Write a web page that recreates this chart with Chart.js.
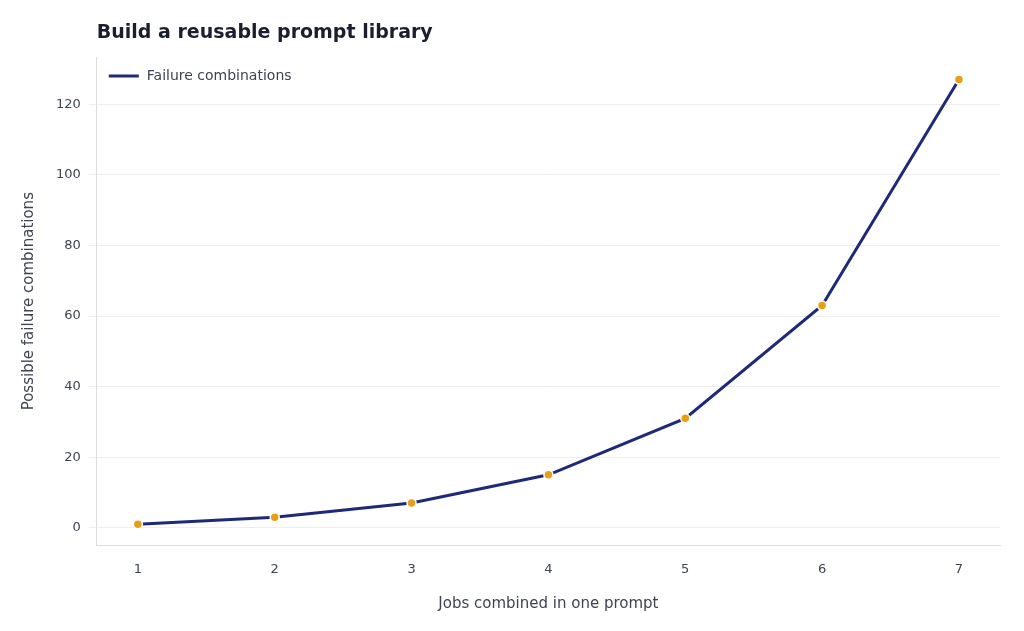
<!DOCTYPE html>
<html><head><meta charset="utf-8">
<script src="https://cdn.jsdelivr.net/npm/chart.js@4"></script>
<style>html,body{margin:0;padding:0;background:#fff}#w{width:1024px;height:631px}</style>
</head><body><div id="w"><canvas id="c"></canvas></div>
<script>
const jobs = [1,2,3,4,5,6,7];
const failures = [1,3,7,15,31,63,127];
const yTicks = [0,20,40,60,80,100,120];
const titleText = "Build a reusable prompt library";
const seriesLabel = "Failure combinations";
const NAVY = "#1e2a78", ORANGE = "#e69f17";
const overlay = {
  id:'overlay',
  afterDraw(ch){
    const c=ch.ctx, a=ch.chartArea;
    c.save();
    c.font="bold 19px 'DejaVu Sans', sans-serif";
    c.fillStyle="#1a1f2e"; c.textBaseline="middle";
    c.fillText(titleText, a.left, 33);
    c.strokeStyle=NAVY; c.lineWidth=3;
    c.beginPath(); c.moveTo(a.left+12,a.top+19); c.lineTo(a.left+42,a.top+19); c.stroke();
    c.font="14px 'DejaVu Sans', sans-serif"; c.fillStyle="#3d4452";
    c.fillText(seriesLabel, a.left+50, a.top+19);
    c.restore();
  }
};
new Chart(document.getElementById('c'), {
  type:'line',
  data:{datasets:[{label:seriesLabel,data:jobs.map((x,i)=>({x,y:failures[i]})),
    borderColor:NAVY,borderWidth:3,tension:0,pointRadius:4.5,pointHoverRadius:4.5,
    pointBackgroundColor:ORANGE,pointBorderColor:'#fff',pointBorderWidth:1.5}]},
  options:{responsive:true,maintainAspectRatio:false,animation:false,
    layout:{padding:{top:57,right:24,left:16,bottom:14}},
    plugins:{legend:{display:false},tooltip:{enabled:false}},
    scales:{
      x:{type:'linear',min:0.7,max:7.3,
        afterBuildTicks(s){s.ticks=jobs.map(v=>({value:v}));},
        grid:{display:false},border:{color:'#dddddd'},
        ticks:{color:'#3d4452',font:{size:13,family:"'DejaVu Sans', sans-serif"},padding:8},
        title:{display:true,text:'Jobs combined in one prompt',color:'#3d4452',font:{size:15,family:"'DejaVu Sans', sans-serif"},padding:{top:10}}},
      y:{min:-5,max:133.4,
        afterBuildTicks(s){s.ticks=yTicks.map(v=>({value:v}));},
        grid:{color:'#eeeeee'},border:{color:'#dddddd'},
        ticks:{color:'#3d4452',font:{size:13,family:"'DejaVu Sans', sans-serif"},padding:8},
        title:{display:true,text:'Possible failure combinations',color:'#3d4452',font:{size:15,family:"'DejaVu Sans', sans-serif"},padding:{bottom:10}}}
    }},
  plugins:[overlay]
});
</script></body></html>
